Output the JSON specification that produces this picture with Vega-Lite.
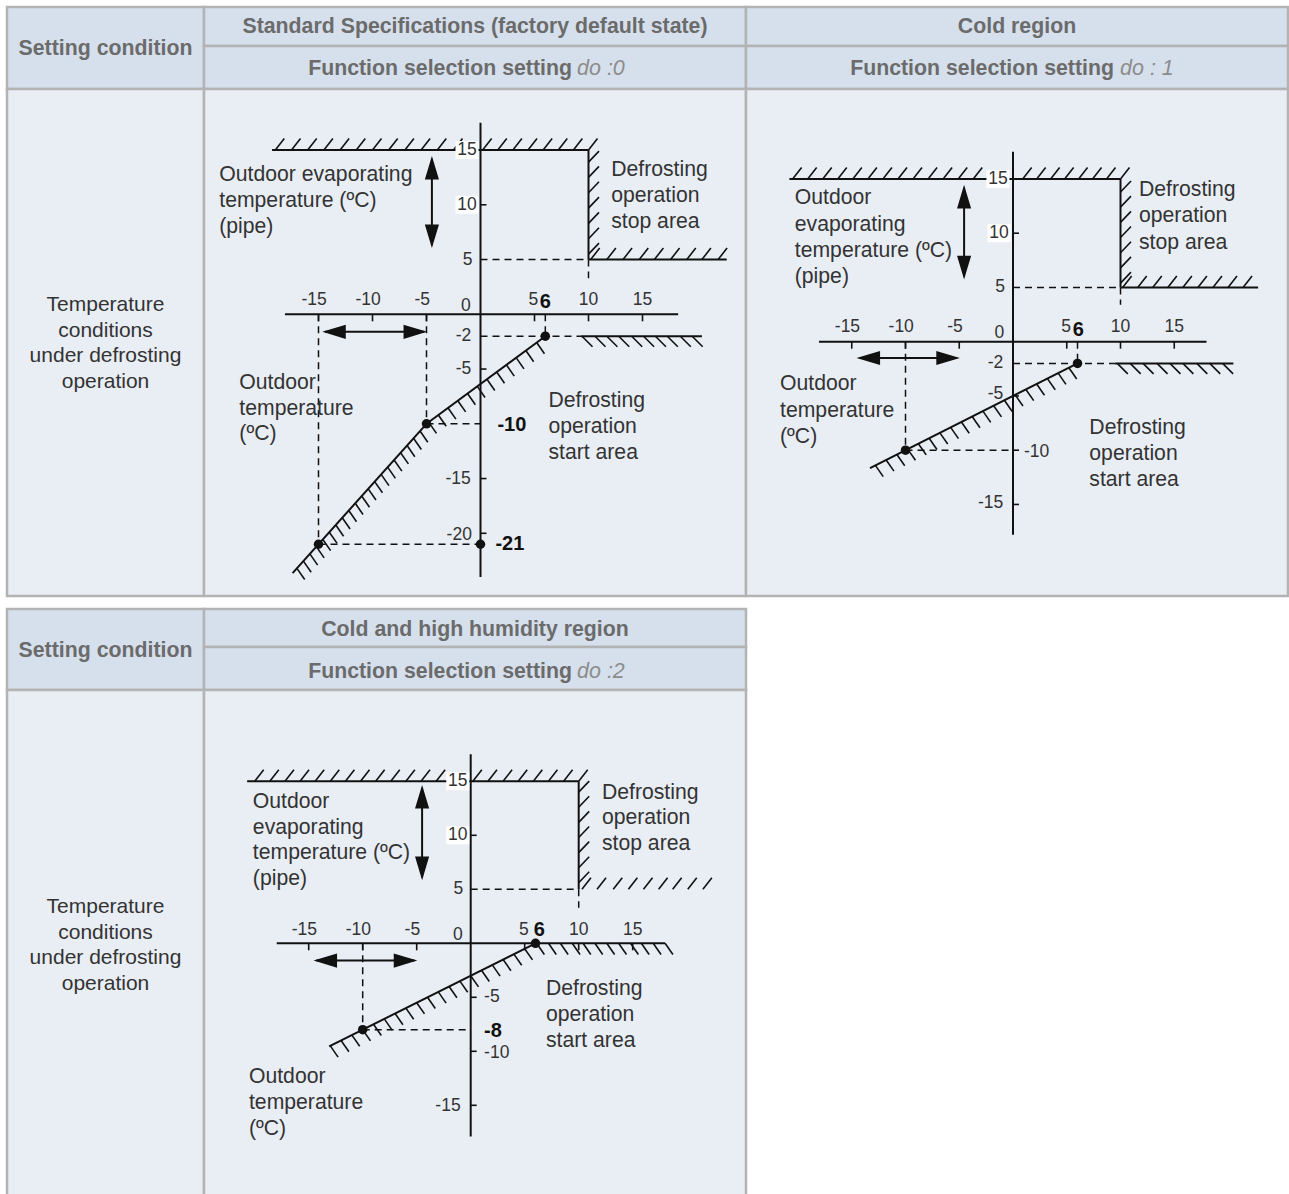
{
"$schema":"https://vega.github.io/schema/vega-lite/v6.json",
"width":1289,"height":1194,"padding":0,
"autosize":{"type":"fit","contains":"padding"},
"background":"white",
"config":{"view":{"stroke":null},"axis":{"disable":true},"legend":{"disable":true}},
"datasets":{
"cells":[
{"x":7,"x2":204,"y":7,"y2":89,"f":"h"},
{"x":204,"x2":746,"y":7,"y2":46,"f":"h"},
{"x":204,"x2":746,"y":46,"y2":89,"f":"h"},
{"x":746,"x2":1288,"y":7,"y2":46,"f":"h"},
{"x":746,"x2":1288,"y":46,"y2":89,"f":"h"},
{"x":7,"x2":204,"y":89,"y2":596,"f":"b"},
{"x":204,"x2":746,"y":89,"y2":596,"f":"b"},
{"x":746,"x2":1288,"y":89,"y2":596,"f":"b"},
{"x":7,"x2":204,"y":609,"y2":690,"f":"h"},
{"x":204,"x2":746,"y":609,"y2":647,"f":"h"},
{"x":204,"x2":746,"y":647,"y2":690,"f":"h"},
{"x":7,"x2":204,"y":690,"y2":1197,"f":"b"},
{"x":204,"x2":746,"y":690,"y2":1197,"f":"b"}
],
"ttext":[
{"x":105.5,"y":49,"t":"Setting condition","s":"hb"},
{"x":105.5,"y":651,"t":"Setting condition","s":"hb"},
{"x":475,"y":27,"t":"Standard Specifications (factory default state)","s":"hb"},
{"x":1017,"y":27,"t":"Cold region","s":"hb"},
{"x":475,"y":630,"t":"Cold and high humidity region","s":"hb"},
{"x":572,"y":69,"t":"Function selection setting","s":"hr"},
{"x":1114,"y":69,"t":"Function selection setting","s":"hr"},
{"x":572,"y":672,"t":"Function selection setting","s":"hr"},
{"x":577,"y":69,"t":"do :0","s":"g"},
{"x":1120,"y":69,"t":"do : 1","s":"g"},
{"x":577,"y":672,"t":"do :2","s":"g"},
{"x":105.5,"y":304,"t":"Temperature\nconditions\nunder defrosting\noperation","s":"lb"},
{"x":105.5,"y":906,"t":"Temperature\nconditions\nunder defrosting\noperation","s":"lb"}
],
"lines":[
{"g":1,"k":"s","x":0,"y":17.5,"x2":0,"y2":-24.0},
{"g":1,"k":"s","x":-18.1,"y":0,"x2":18.3,"y2":0},
{"g":1,"k":"s","x":-19.3,"y":15,"x2":10,"y2":15},
{"g":1,"k":"s","x":10,"y":15,"x2":10,"y2":5},
{"g":1,"k":"s","x":10,"y":5,"x2":22.8,"y2":5},
{"g":1,"k":"s","x":9.3,"y":-2,"x2":20.5,"y2":-2},
{"g":1,"k":"s","x":6,"y":-2,"x2":-5,"y2":-10},
{"g":1,"k":"s","x":-5,"y":-10,"x2":-17.4,"y2":-23.64},
{"g":1,"k":"s","x":-4.5,"y":14.2,"x2":-4.5,"y2":6.3},
{"g":1,"k":"s","x":-14.4,"y":-1.6,"x2":-5.2,"y2":-1.6},
{"g":1,"k":"d","x":0,"y":5,"x2":10,"y2":5},
{"g":1,"k":"d","x":10,"y":5,"x2":10,"y2":3.3},
{"g":1,"k":"d","x":-15,"y":0,"x2":-15,"y2":-21},
{"g":1,"k":"d","x":-5,"y":0,"x2":-5,"y2":-10},
{"g":1,"k":"d","x":-15,"y":-21,"x2":0,"y2":-21},
{"g":1,"k":"d","x":-5,"y":-10,"x2":0,"y2":-10},
{"g":1,"k":"d","x":0,"y":-2,"x2":9.3,"y2":-2},
{"g":1,"k":"d","x":6,"y":0,"x2":6,"y2":-2},
{"g":2,"k":"s","x":0,"y":17.5,"x2":0,"y2":-17.8},
{"g":2,"k":"s","x":-18.05,"y":0,"x2":18.0,"y2":0},
{"g":2,"k":"s","x":-20.8,"y":15,"x2":10,"y2":15},
{"g":2,"k":"s","x":10,"y":15,"x2":10,"y2":5},
{"g":2,"k":"s","x":10,"y":5,"x2":22.8,"y2":5},
{"g":2,"k":"s","x":9.5,"y":-2,"x2":20.5,"y2":-2},
{"g":2,"k":"s","x":6,"y":-2,"x2":-13.3,"y2":-11.65},
{"g":2,"k":"s","x":-4.55,"y":14.2,"x2":-4.55,"y2":6.0},
{"g":2,"k":"s","x":-14.3,"y":-1.5,"x2":-5.2,"y2":-1.5},
{"g":2,"k":"d","x":0,"y":5,"x2":10,"y2":5},
{"g":2,"k":"d","x":10,"y":5,"x2":10,"y2":3.4},
{"g":2,"k":"d","x":-10,"y":0,"x2":-10,"y2":-10},
{"g":2,"k":"d","x":-10,"y":-10,"x2":0,"y2":-10},
{"g":2,"k":"d","x":0,"y":-2,"x2":9.5,"y2":-2},
{"g":2,"k":"d","x":6,"y":0,"x2":6,"y2":-2},
{"g":3,"k":"s","x":0,"y":17.5,"x2":0,"y2":-17.9},
{"g":3,"k":"s","x":-17.96,"y":0,"x2":18.0,"y2":0},
{"g":3,"k":"s","x":-20.7,"y":15,"x2":10,"y2":15},
{"g":3,"k":"s","x":10,"y":15,"x2":10,"y2":5},
{"g":3,"k":"s","x":6,"y":0,"x2":-13.1,"y2":-9.55},
{"g":3,"k":"s","x":-4.5,"y":14.4,"x2":-4.5,"y2":6.1},
{"g":3,"k":"s","x":-14.3,"y":-1.6,"x2":-5.2,"y2":-1.6},
{"g":3,"k":"d","x":0,"y":5,"x2":10,"y2":5},
{"g":3,"k":"d","x":10,"y":5,"x2":10,"y2":3.3},
{"g":3,"k":"d","x":-10,"y":0,"x2":-10,"y2":-8},
{"g":3,"k":"d","x":-10,"y":-8,"x2":0,"y2":-8}
],
"glyphs":[
{"g":1,"h":"u","x":-19,"y":15},{"g":1,"h":"u","x":-17.5,"y":15},{"g":1,"h":"u","x":-16,"y":15},{"g":1,"h":"u","x":-14.5,"y":15},{"g":1,"h":"u","x":-13,"y":15},{"g":1,"h":"u","x":-11.5,"y":15},{"g":1,"h":"u","x":-10,"y":15},{"g":1,"h":"u","x":-8.5,"y":15},{"g":1,"h":"u","x":-7,"y":15},{"g":1,"h":"u","x":-5.5,"y":15},{"g":1,"h":"u","x":-4,"y":15},{"g":1,"h":"u","x":-2.5,"y":15},
{"g":1,"h":"u","x":0.2,"y":15},{"g":1,"h":"u","x":1.6,"y":15},{"g":1,"h":"u","x":3.0,"y":15},{"g":1,"h":"u","x":4.4,"y":15},{"g":1,"h":"u","x":5.8,"y":15},{"g":1,"h":"u","x":7.2,"y":15},{"g":1,"h":"u","x":8.6,"y":15},{"g":1,"h":"u","x":10.0,"y":15},
{"g":1,"h":"r","x":10,"y":13.9},{"g":1,"h":"r","x":10,"y":12.5},{"g":1,"h":"r","x":10,"y":11.1},{"g":1,"h":"r","x":10,"y":9.7},{"g":1,"h":"r","x":10,"y":8.3},{"g":1,"h":"r","x":10,"y":6.9},{"g":1,"h":"r","x":10,"y":5.5},
{"g":1,"h":"u","x":10.2,"y":5},{"g":1,"h":"u","x":11.7,"y":5},{"g":1,"h":"u","x":13.2,"y":5},{"g":1,"h":"u","x":14.7,"y":5},{"g":1,"h":"u","x":16.1,"y":5},{"g":1,"h":"u","x":17.6,"y":5},{"g":1,"h":"u","x":19.1,"y":5},{"g":1,"h":"u","x":20.5,"y":5},{"g":1,"h":"u","x":22.0,"y":5},
{"g":1,"h":"d","x":9.4,"y":-2},{"g":1,"h":"d","x":10.6,"y":-2},{"g":1,"h":"d","x":11.7,"y":-2},{"g":1,"h":"d","x":12.8,"y":-2},{"g":1,"h":"d","x":14.0,"y":-2},{"g":1,"h":"d","x":15.1,"y":-2},{"g":1,"h":"d","x":16.2,"y":-2},{"g":1,"h":"d","x":17.3,"y":-2},{"g":1,"h":"d","x":18.5,"y":-2},{"g":1,"h":"d","x":19.6,"y":-2},
{"g":1,"h":"p","x":5.2,"y":-2.58},{"g":1,"h":"p","x":4.2,"y":-3.31},{"g":1,"h":"p","x":3.3,"y":-3.96},{"g":1,"h":"p","x":2.4,"y":-4.62},{"g":1,"h":"p","x":1.5,"y":-5.27},{"g":1,"h":"p","x":0.6,"y":-5.93},{"g":1,"h":"p","x":-0.3,"y":-6.58},{"g":1,"h":"p","x":-1.2,"y":-7.24},{"g":1,"h":"p","x":-2.1,"y":-7.89},{"g":1,"h":"p","x":-3.0,"y":-8.55},{"g":1,"h":"p","x":-3.9,"y":-9.2},{"g":1,"h":"p","x":-4.8,"y":-9.85},
{"g":1,"h":"p","x":-5.6,"y":-10.66},{"g":1,"h":"p","x":-6.2,"y":-11.32},{"g":1,"h":"p","x":-6.8,"y":-11.98},{"g":1,"h":"p","x":-7.4,"y":-12.64},{"g":1,"h":"p","x":-8.0,"y":-13.3},{"g":1,"h":"p","x":-8.6,"y":-13.96},{"g":1,"h":"p","x":-9.2,"y":-14.62},{"g":1,"h":"p","x":-9.8,"y":-15.28},{"g":1,"h":"p","x":-10.4,"y":-15.94},{"g":1,"h":"p","x":-11.0,"y":-16.6},{"g":1,"h":"p","x":-11.6,"y":-17.26},{"g":1,"h":"p","x":-12.2,"y":-17.92},{"g":1,"h":"p","x":-12.8,"y":-18.58},{"g":1,"h":"p","x":-13.4,"y":-19.24},{"g":1,"h":"p","x":-14.0,"y":-19.9},{"g":1,"h":"p","x":-14.6,"y":-20.56},{"g":1,"h":"p","x":-15.2,"y":-21.22},{"g":1,"h":"p","x":-15.8,"y":-21.88},{"g":1,"h":"p","x":-16.4,"y":-22.54},{"g":1,"h":"p","x":-17.0,"y":-23.2},
{"g":1,"h":"tx","x":-15,"y":0},{"g":1,"h":"tx","x":-10,"y":0},{"g":1,"h":"tx","x":-5,"y":0},{"g":1,"h":"tx","x":5,"y":0},{"g":1,"h":"tx","x":10,"y":0},{"g":1,"h":"tx","x":15,"y":0},
{"g":1,"h":"ty","x":0,"y":10},{"g":1,"h":"ty","x":0,"y":-5},{"g":1,"h":"ty","x":0,"y":-15},{"g":1,"h":"ty","x":0,"y":-20},
{"g":1,"h":"au","x":-4.5,"y":14.2},{"g":1,"h":"ad","x":-4.5,"y":6.3},{"g":1,"h":"al","x":-14.4,"y":-1.6},{"g":1,"h":"ar","x":-5.2,"y":-1.6},

{"g":2,"h":"u","x":-20.5,"y":15},{"g":2,"h":"u","x":-19.1,"y":15},{"g":2,"h":"u","x":-17.7,"y":15},{"g":2,"h":"u","x":-16.3,"y":15},{"g":2,"h":"u","x":-14.9,"y":15},{"g":2,"h":"u","x":-13.5,"y":15},{"g":2,"h":"u","x":-12.1,"y":15},{"g":2,"h":"u","x":-10.7,"y":15},{"g":2,"h":"u","x":-9.3,"y":15},{"g":2,"h":"u","x":-7.9,"y":15},{"g":2,"h":"u","x":-6.5,"y":15},{"g":2,"h":"u","x":-5.1,"y":15},{"g":2,"h":"u","x":-3.7,"y":15},
{"g":2,"h":"u","x":0.9,"y":15},{"g":2,"h":"u","x":2.2,"y":15},{"g":2,"h":"u","x":3.5,"y":15},{"g":2,"h":"u","x":4.8,"y":15},{"g":2,"h":"u","x":6.1,"y":15},{"g":2,"h":"u","x":7.4,"y":15},{"g":2,"h":"u","x":8.7,"y":15},{"g":2,"h":"u","x":10.0,"y":15},
{"g":2,"h":"r","x":10,"y":13.8},{"g":2,"h":"r","x":10,"y":12.4},{"g":2,"h":"r","x":10,"y":11.0},{"g":2,"h":"r","x":10,"y":9.6},{"g":2,"h":"r","x":10,"y":8.2},{"g":2,"h":"r","x":10,"y":6.8},{"g":2,"h":"r","x":10,"y":5.4},
{"g":2,"h":"u","x":10.2,"y":5},{"g":2,"h":"u","x":11.6,"y":5},{"g":2,"h":"u","x":13.0,"y":5},{"g":2,"h":"u","x":14.4,"y":5},{"g":2,"h":"u","x":15.8,"y":5},{"g":2,"h":"u","x":17.2,"y":5},{"g":2,"h":"u","x":18.6,"y":5},{"g":2,"h":"u","x":20.0,"y":5},{"g":2,"h":"u","x":21.4,"y":5},
{"g":2,"h":"d","x":9.7,"y":-2},{"g":2,"h":"d","x":10.9,"y":-2},{"g":2,"h":"d","x":12.1,"y":-2},{"g":2,"h":"d","x":13.4,"y":-2},{"g":2,"h":"d","x":14.6,"y":-2},{"g":2,"h":"d","x":15.8,"y":-2},{"g":2,"h":"d","x":17.1,"y":-2},{"g":2,"h":"d","x":18.3,"y":-2},{"g":2,"h":"d","x":19.5,"y":-2},
{"g":2,"h":"p","x":5.2,"y":-2.4},{"g":2,"h":"p","x":4.2,"y":-2.9},{"g":2,"h":"p","x":3.2,"y":-3.4},{"g":2,"h":"p","x":2.2,"y":-3.9},{"g":2,"h":"p","x":1.2,"y":-4.4},{"g":2,"h":"p","x":0.2,"y":-4.9},{"g":2,"h":"p","x":-0.8,"y":-5.4},{"g":2,"h":"p","x":-1.8,"y":-5.9},{"g":2,"h":"p","x":-2.8,"y":-6.4},{"g":2,"h":"p","x":-3.8,"y":-6.9},{"g":2,"h":"p","x":-4.8,"y":-7.4},{"g":2,"h":"p","x":-5.8,"y":-7.9},{"g":2,"h":"p","x":-6.8,"y":-8.4},{"g":2,"h":"p","x":-7.8,"y":-8.9},{"g":2,"h":"p","x":-8.8,"y":-9.4},{"g":2,"h":"p","x":-9.8,"y":-9.9},{"g":2,"h":"p","x":-10.8,"y":-10.4},{"g":2,"h":"p","x":-11.8,"y":-10.9},{"g":2,"h":"p","x":-12.8,"y":-11.4},
{"g":2,"h":"tx","x":-15,"y":0},{"g":2,"h":"tx","x":-10,"y":0},{"g":2,"h":"tx","x":-5,"y":0},{"g":2,"h":"tx","x":5,"y":0},{"g":2,"h":"tx","x":10,"y":0},{"g":2,"h":"tx","x":15,"y":0},
{"g":2,"h":"ty","x":0,"y":10},{"g":2,"h":"ty","x":0,"y":-5},{"g":2,"h":"ty","x":0,"y":-10},{"g":2,"h":"ty","x":0,"y":-15},
{"g":2,"h":"au","x":-4.55,"y":14.2},{"g":2,"h":"ad","x":-4.55,"y":6.0},{"g":2,"h":"al","x":-14.3,"y":-1.5},{"g":2,"h":"ar","x":-5.2,"y":-1.5},

{"g":3,"h":"u","x":-20.0,"y":15},{"g":3,"h":"u","x":-18.6,"y":15},{"g":3,"h":"u","x":-17.2,"y":15},{"g":3,"h":"u","x":-15.8,"y":15},{"g":3,"h":"u","x":-14.4,"y":15},{"g":3,"h":"u","x":-13.0,"y":15},{"g":3,"h":"u","x":-11.6,"y":15},{"g":3,"h":"u","x":-10.2,"y":15},{"g":3,"h":"u","x":-8.8,"y":15},{"g":3,"h":"u","x":-7.4,"y":15},{"g":3,"h":"u","x":-6.0,"y":15},{"g":3,"h":"u","x":-4.6,"y":15},{"g":3,"h":"u","x":-3.2,"y":15},
{"g":3,"h":"u","x":0.2,"y":15},{"g":3,"h":"u","x":1.6,"y":15},{"g":3,"h":"u","x":3.0,"y":15},{"g":3,"h":"u","x":4.4,"y":15},{"g":3,"h":"u","x":5.8,"y":15},{"g":3,"h":"u","x":7.2,"y":15},{"g":3,"h":"u","x":8.6,"y":15},{"g":3,"h":"u","x":10.0,"y":15},
{"g":3,"h":"r","x":10,"y":14.0},{"g":3,"h":"r","x":10,"y":12.6},{"g":3,"h":"r","x":10,"y":11.2},{"g":3,"h":"r","x":10,"y":9.8},{"g":3,"h":"r","x":10,"y":8.4},{"g":3,"h":"r","x":10,"y":7.0},{"g":3,"h":"r","x":10,"y":5.6},
{"g":3,"h":"u","x":10.3,"y":5},{"g":3,"h":"u","x":11.7,"y":5},{"g":3,"h":"u","x":13.2,"y":5},{"g":3,"h":"u","x":14.6,"y":5},{"g":3,"h":"u","x":16.0,"y":5},{"g":3,"h":"u","x":17.4,"y":5},{"g":3,"h":"u","x":18.7,"y":5},{"g":3,"h":"u","x":20.1,"y":5},{"g":3,"h":"u","x":21.5,"y":5},
{"g":3,"h":"p","x":6.1,"y":0},{"g":3,"h":"p","x":7.2,"y":0},{"g":3,"h":"p","x":8.3,"y":0},{"g":3,"h":"p","x":9.4,"y":0},{"g":3,"h":"p","x":10.4,"y":0},{"g":3,"h":"p","x":11.5,"y":0},{"g":3,"h":"p","x":12.6,"y":0},{"g":3,"h":"p","x":13.7,"y":0},{"g":3,"h":"p","x":14.8,"y":0},{"g":3,"h":"p","x":15.8,"y":0},{"g":3,"h":"p","x":16.9,"y":0},{"g":3,"h":"p","x":18.0,"y":0},
{"g":3,"h":"p","x":5,"y":-0.5},{"g":3,"h":"p","x":4,"y":-1},{"g":3,"h":"p","x":3,"y":-1.5},{"g":3,"h":"p","x":2,"y":-2},{"g":3,"h":"p","x":1,"y":-2.5},{"g":3,"h":"p","x":0,"y":-3},{"g":3,"h":"p","x":-1,"y":-3.5},{"g":3,"h":"p","x":-2,"y":-4},{"g":3,"h":"p","x":-3,"y":-4.5},{"g":3,"h":"p","x":-4,"y":-5},{"g":3,"h":"p","x":-5,"y":-5.5},{"g":3,"h":"p","x":-6,"y":-6},{"g":3,"h":"p","x":-7,"y":-6.5},{"g":3,"h":"p","x":-8,"y":-7},{"g":3,"h":"p","x":-9,"y":-7.5},{"g":3,"h":"p","x":-10,"y":-8},{"g":3,"h":"p","x":-11,"y":-8.5},{"g":3,"h":"p","x":-12,"y":-9},{"g":3,"h":"p","x":-13,"y":-9.5},
{"g":3,"h":"tx","x":-15,"y":0},{"g":3,"h":"tx","x":-10,"y":0},{"g":3,"h":"tx","x":-5,"y":0},{"g":3,"h":"tx","x":5,"y":0},{"g":3,"h":"tx","x":10,"y":0},{"g":3,"h":"tx","x":15,"y":0},
{"g":3,"h":"ty","x":0,"y":10},{"g":3,"h":"ty","x":0,"y":-5},{"g":3,"h":"ty","x":0,"y":-10},{"g":3,"h":"ty","x":0,"y":-15},
{"g":3,"h":"au","x":-4.5,"y":14.4},{"g":3,"h":"ad","x":-4.5,"y":6.1},{"g":3,"h":"al","x":-14.3,"y":-1.6},{"g":3,"h":"ar","x":-5.2,"y":-1.6}
],
"dots":[
{"g":1,"x":6,"y":-2},{"g":1,"x":-5,"y":-10},{"g":1,"x":-15,"y":-21},{"g":1,"x":0,"y":-21},
{"g":2,"x":6,"y":-2},{"g":2,"x":-10,"y":-10},
{"g":3,"x":6,"y":0},{"g":3,"x":-10,"y":-8}
],
"bgs":[
{"g":1,"x":-1.25,"y":15},{"g":1,"x":-1.25,"y":10},
{"g":2,"x":-1.4,"y":15},{"g":2,"x":-1.3,"y":10},
{"g":3,"x":-1.2,"y":15},{"g":3,"x":-1.2,"y":10}
],
"texts":[
{"g":1,"s":"c","x":-15.4,"y":1.3,"t":"-15"},
{"g":1,"s":"c","x":-10.4,"y":1.3,"t":"-10"},
{"g":1,"s":"c","x":-5.4,"y":1.3,"t":"-5"},
{"g":1,"s":"c","x":-1.35,"y":0.75,"t":"0"},
{"g":1,"s":"c","x":4.9,"y":1.3,"t":"5"},
{"g":1,"s":"c","x":10,"y":1.3,"t":"10"},
{"g":1,"s":"c","x":15,"y":1.3,"t":"15"},
{"g":1,"s":"c","x":-1.25,"y":15,"t":"15"},
{"g":1,"s":"c","x":-1.25,"y":10,"t":"10"},
{"g":1,"s":"r","x":-0.75,"y":5,"t":"5"},
{"g":1,"s":"r","x":-0.85,"y":-2,"t":"-2"},
{"g":1,"s":"r","x":-0.85,"y":-5,"t":"-5"},
{"g":1,"s":"r","x":-0.9,"y":-15,"t":"-15"},
{"g":1,"s":"r","x":-0.8,"y":-20.2,"t":"-20"},
{"g":1,"s":"bc","x":6.0,"y":1.1,"t":"6"},
{"g":1,"s":"bl","x":1.57,"y":-10.1,"t":"-10"},
{"g":1,"s":"bl","x":1.38,"y":-21.0,"t":"-21"},
{"g":1,"s":"d","x":-24.19,"y":12.81,"t":"Outdoor evaporating\ntemperature (ºC)\n(pipe)"},
{"g":1,"s":"d","x":12.1,"y":13.24,"t":"Defrosting\noperation\nstop area"},
{"g":1,"s":"d","x":-22.33,"y":-6.16,"t":"Outdoor\ntemperature\n(ºC)"},
{"g":1,"s":"d","x":6.29,"y":-7.83,"t":"Defrosting\noperation\nstart area"},
{"g":2,"s":"c","x":-15.4,"y":1.33,"t":"-15"},
{"g":2,"s":"c","x":-10.4,"y":1.33,"t":"-10"},
{"g":2,"s":"c","x":-5.4,"y":1.33,"t":"-5"},
{"g":2,"s":"c","x":-1.27,"y":0.83,"t":"0"},
{"g":2,"s":"c","x":4.93,"y":1.33,"t":"5"},
{"g":2,"s":"c","x":10,"y":1.33,"t":"10"},
{"g":2,"s":"c","x":15,"y":1.33,"t":"15"},
{"g":2,"s":"c","x":-1.4,"y":15,"t":"15"},
{"g":2,"s":"c","x":-1.3,"y":10,"t":"10"},
{"g":2,"s":"r","x":-0.74,"y":5,"t":"5"},
{"g":2,"s":"r","x":-0.9,"y":-2,"t":"-2"},
{"g":2,"s":"r","x":-0.9,"y":-4.85,"t":"-5"},
{"g":2,"s":"r","x":-0.9,"y":-14.9,"t":"-15"},
{"g":2,"s":"l","x":1.02,"y":-10.14,"t":"-10"},
{"g":2,"s":"bc","x":6.07,"y":1.08,"t":"6"},
{"g":2,"s":"d","x":-20.3,"y":13.3,"t":"Outdoor\nevaporating\ntemperature (ºC)\n(pipe)"},
{"g":2,"s":"d","x":11.72,"y":14.05,"t":"Defrosting\noperation\nstop area"},
{"g":2,"s":"d","x":-21.67,"y":-3.84,"t":"Outdoor\ntemperature\n(ºC)"},
{"g":2,"s":"d","x":7.1,"y":-7.83,"t":"Defrosting\noperation\nstart area"},
{"g":3,"s":"c","x":-15.4,"y":1.23,"t":"-15"},
{"g":3,"s":"c","x":-10.4,"y":1.23,"t":"-10"},
{"g":3,"s":"c","x":-5.4,"y":1.23,"t":"-5"},
{"g":3,"s":"c","x":-1.2,"y":0.77,"t":"0"},
{"g":3,"s":"c","x":4.93,"y":1.23,"t":"5"},
{"g":3,"s":"c","x":10,"y":1.23,"t":"10"},
{"g":3,"s":"c","x":15,"y":1.23,"t":"15"},
{"g":3,"s":"c","x":-1.2,"y":15,"t":"15"},
{"g":3,"s":"c","x":-1.2,"y":10,"t":"10"},
{"g":3,"s":"r","x":-0.7,"y":5,"t":"5"},
{"g":3,"s":"r","x":-0.93,"y":-15.04,"t":"-15"},
{"g":3,"s":"l","x":1.24,"y":-5.0,"t":"-5"},
{"g":3,"s":"l","x":1.24,"y":-10.2,"t":"-10"},
{"g":3,"s":"bl","x":1.24,"y":-8.09,"t":"-8"},
{"g":3,"s":"bc","x":6.35,"y":1.23,"t":"6"},
{"g":3,"s":"d","x":-20.17,"y":13.2,"t":"Outdoor\nevaporating\ntemperature (ºC)\n(pipe)"},
{"g":3,"s":"d","x":12.15,"y":14.04,"t":"Defrosting\noperation\nstop area"},
{"g":3,"s":"d","x":-20.53,"y":-12.29,"t":"Outdoor\ntemperature\n(ºC)"},
{"g":3,"s":"d","x":6.97,"y":-4.17,"t":"Defrosting\noperation\nstart area"}
]
},
"layer":[
{
"encoding":{
"x":{"field":"x","type":"quantitative","scale":{"domain":[0,1289],"nice":false,"zero":false}},
"y":{"field":"y","type":"quantitative","scale":{"domain":[0,1194],"nice":false,"zero":false,"reverse":true}}
},
"layer":[
{"data":{"name":"cells"},"mark":{"type":"rect","stroke":"#b3b3b3","strokeWidth":2.5,"clip":true},
 "encoding":{"x2":{"field":"x2"},"y2":{"field":"y2"},"fill":{"field":"f","type":"nominal","legend":null,"scale":{"domain":["h","b"],"range":["#d6e0ec","#e9eef5"]}}}},
{"data":{"name":"ttext"},"transform":[{"filter":"datum.s=='hb'"}],"mark":{"type":"text","align":"center","baseline":"middle","font":"Liberation Sans","fontSize":21.3,"fontWeight":"bold","color":"#6b6b6b"},"encoding":{"text":{"field":"t"}}},
{"data":{"name":"ttext"},"transform":[{"filter":"datum.s=='hr'"}],"mark":{"type":"text","align":"right","baseline":"middle","font":"Liberation Sans","fontSize":21.3,"fontWeight":"bold","color":"#6b6b6b"},"encoding":{"text":{"field":"t"}}},
{"data":{"name":"ttext"},"transform":[{"filter":"datum.s=='g'"}],"mark":{"type":"text","align":"left","baseline":"middle","font":"Liberation Sans","fontSize":21.5,"fontStyle":"italic","color":"#8c8c8c"},"encoding":{"text":{"field":"t"}}},
{"data":{"name":"ttext"},"transform":[{"filter":"datum.s=='lb'"}],"mark":{"type":"text","align":"center","baseline":"top","dy":-10,"lineBreak":"\n","lineHeight":25.7,"font":"Liberation Sans","fontSize":21,"color":"#333333"},"encoding":{"text":{"field":"t"}}}
]
},
{
"encoding":{
"x":{"field":"x","type":"quantitative","scale":{"domain":[-44.491,74.861],"nice":false,"zero":false}},
"y":{"field":"y","type":"quantitative","scale":{"domain":[-80.338,28.703],"nice":false,"zero":false}}
},
"layer":[
{"data":{"name":"lines"},"transform":[{"filter":"datum.g==1 && datum.k=='s'"}],"mark":{"type":"rule","color":"#111111","strokeWidth":2},"encoding":{"x2":{"field":"x2"},"y2":{"field":"y2"}}},
{"data":{"name":"lines"},"transform":[{"filter":"datum.g==1 && datum.k=='d'"}],"mark":{"type":"rule","color":"#111111","strokeWidth":1.5,"strokeDash":[7,5]},"encoding":{"x2":{"field":"x2"},"y2":{"field":"y2"}}},
{"data":{"name":"glyphs"},"transform":[{"filter":"datum.g==1"}],"mark":{"type":"point","filled":true,"fill":"#111111","stroke":"#111111","strokeWidth":1.6,"opacity":1,"size":400},
 "encoding":{"shape":{"field":"h","type":"nominal","legend":null,"scale":{"domain":["u","r","d","p","tx","ty","au","ad","al","ar"],"range":["M0,0L0.9,-1.15","M0,0L1.05,-1.1","M0,0L1.05,1.05","M0,0L0.78,1.12","M0,0L0,0.7","M0,0L0.6,0","M0,0L0.6,2L-0.6,2Z","M0,0L0.6,-2L-0.6,-2Z","M0,0L2,0.6L2,-0.6Z","M0,0L-2,0.6L-2,-0.6Z"]}}}},
{"data":{"name":"dots"},"transform":[{"filter":"datum.g==1"}],"mark":{"type":"circle","size":90,"color":"#111111","opacity":1}},
{"data":{"name":"bgs"},"transform":[{"filter":"datum.g==1"}],"mark":{"type":"point","filled":true,"fill":"white","opacity":1,"size":400,"strokeWidth":0,"shape":"M-1.15,-0.9L1.15,-0.9L1.15,0.9L-1.15,0.9Z"}},
{"data":{"name":"texts"},"transform":[{"filter":"datum.g==1 && datum.s=='c'"}],"mark":{"type":"text","align":"center","baseline":"middle","font":"Liberation Sans","fontSize":17.5,"color":"#333333"},"encoding":{"text":{"field":"t"}}},
{"data":{"name":"texts"},"transform":[{"filter":"datum.g==1 && datum.s=='r'"}],"mark":{"type":"text","align":"right","baseline":"middle","font":"Liberation Sans","fontSize":17.5,"color":"#333333"},"encoding":{"text":{"field":"t"}}},
{"data":{"name":"texts"},"transform":[{"filter":"datum.g==1 && datum.s=='bc'"}],"mark":{"type":"text","align":"center","baseline":"middle","font":"Liberation Sans","fontSize":20,"fontWeight":"bold","color":"#111111"},"encoding":{"text":{"field":"t"}}},
{"data":{"name":"texts"},"transform":[{"filter":"datum.g==1 && datum.s=='bl'"}],"mark":{"type":"text","align":"left","baseline":"middle","font":"Liberation Sans","fontSize":20,"fontWeight":"bold","color":"#111111"},"encoding":{"text":{"field":"t"}}},
{"data":{"name":"texts"},"transform":[{"filter":"datum.g==1 && datum.s=='d'"}],"mark":{"type":"text","align":"left","baseline":"top","dy":-10,"lineBreak":"\n","lineHeight":25.8,"font":"Liberation Sans","fontSize":21.2,"color":"#333333"},"encoding":{"text":{"field":"t"}}}
]
},
{
"encoding":{
"x":{"field":"x","type":"quantitative","scale":{"domain":[-94.233,25.674],"nice":false,"zero":false}},
"y":{"field":"y","type":"quantitative","scale":{"domain":[-78.553,31.493],"nice":false,"zero":false}}
},
"layer":[
{"data":{"name":"lines"},"transform":[{"filter":"datum.g==2 && datum.k=='s'"}],"mark":{"type":"rule","color":"#111111","strokeWidth":2},"encoding":{"x2":{"field":"x2"},"y2":{"field":"y2"}}},
{"data":{"name":"lines"},"transform":[{"filter":"datum.g==2 && datum.k=='d'"}],"mark":{"type":"rule","color":"#111111","strokeWidth":1.5,"strokeDash":[7,5]},"encoding":{"x2":{"field":"x2"},"y2":{"field":"y2"}}},
{"data":{"name":"glyphs"},"transform":[{"filter":"datum.g==2"}],"mark":{"type":"point","filled":true,"fill":"#111111","stroke":"#111111","strokeWidth":1.6,"opacity":1,"size":400},
 "encoding":{"shape":{"field":"h","type":"nominal","legend":null,"scale":{"domain":["u","r","d","p","tx","ty","au","ad","al","ar"],"range":["M0,0L0.9,-1.15","M0,0L1.05,-1.1","M0,0L1.05,1.05","M0,0L0.78,1.12","M0,0L0,0.7","M0,0L0.6,0","M0,0L0.6,2L-0.6,2Z","M0,0L0.6,-2L-0.6,-2Z","M0,0L2,0.6L2,-0.6Z","M0,0L-2,0.6L-2,-0.6Z"]}}}},
{"data":{"name":"dots"},"transform":[{"filter":"datum.g==2"}],"mark":{"type":"circle","size":90,"color":"#111111","opacity":1}},
{"data":{"name":"bgs"},"transform":[{"filter":"datum.g==2"}],"mark":{"type":"point","filled":true,"fill":"white","opacity":1,"size":400,"strokeWidth":0,"shape":"M-1.15,-0.9L1.15,-0.9L1.15,0.9L-1.15,0.9Z"}},
{"data":{"name":"texts"},"transform":[{"filter":"datum.g==2 && datum.s=='c'"}],"mark":{"type":"text","align":"center","baseline":"middle","font":"Liberation Sans","fontSize":17.5,"color":"#333333"},"encoding":{"text":{"field":"t"}}},
{"data":{"name":"texts"},"transform":[{"filter":"datum.g==2 && datum.s=='r'"}],"mark":{"type":"text","align":"right","baseline":"middle","font":"Liberation Sans","fontSize":17.5,"color":"#333333"},"encoding":{"text":{"field":"t"}}},
{"data":{"name":"texts"},"transform":[{"filter":"datum.g==2 && datum.s=='l'"}],"mark":{"type":"text","align":"left","baseline":"middle","font":"Liberation Sans","fontSize":17.5,"color":"#333333"},"encoding":{"text":{"field":"t"}}},
{"data":{"name":"texts"},"transform":[{"filter":"datum.g==2 && datum.s=='bc'"}],"mark":{"type":"text","align":"center","baseline":"middle","font":"Liberation Sans","fontSize":20,"fontWeight":"bold","color":"#111111"},"encoding":{"text":{"field":"t"}}},
{"data":{"name":"texts"},"transform":[{"filter":"datum.g==2 && datum.s=='d'"}],"mark":{"type":"text","align":"left","baseline":"top","dy":-10,"lineBreak":"\n","lineHeight":26.2,"font":"Liberation Sans","fontSize":21.2,"color":"#333333"},"encoding":{"text":{"field":"t"}}}
]
},
{
"encoding":{
"x":{"field":"x","type":"quantitative","scale":{"domain":[-43.583,75.769],"nice":false,"zero":false}},
"y":{"field":"y","type":"quantitative","scale":{"domain":[-23.213,87.343],"nice":false,"zero":false}}
},
"layer":[
{"data":{"name":"lines"},"transform":[{"filter":"datum.g==3 && datum.k=='s'"}],"mark":{"type":"rule","color":"#111111","strokeWidth":2},"encoding":{"x2":{"field":"x2"},"y2":{"field":"y2"}}},
{"data":{"name":"lines"},"transform":[{"filter":"datum.g==3 && datum.k=='d'"}],"mark":{"type":"rule","color":"#111111","strokeWidth":1.5,"strokeDash":[7,5]},"encoding":{"x2":{"field":"x2"},"y2":{"field":"y2"}}},
{"data":{"name":"glyphs"},"transform":[{"filter":"datum.g==3"}],"mark":{"type":"point","filled":true,"fill":"#111111","stroke":"#111111","strokeWidth":1.6,"opacity":1,"size":400},
 "encoding":{"shape":{"field":"h","type":"nominal","legend":null,"scale":{"domain":["u","r","d","p","tx","ty","au","ad","al","ar"],"range":["M0,0L0.9,-1.15","M0,0L1.05,-1.1","M0,0L1.05,1.05","M0,0L0.78,1.12","M0,0L0,0.7","M0,0L0.6,0","M0,0L0.6,2L-0.6,2Z","M0,0L0.6,-2L-0.6,-2Z","M0,0L2,0.6L2,-0.6Z","M0,0L-2,0.6L-2,-0.6Z"]}}}},
{"data":{"name":"dots"},"transform":[{"filter":"datum.g==3"}],"mark":{"type":"circle","size":90,"color":"#111111","opacity":1}},
{"data":{"name":"bgs"},"transform":[{"filter":"datum.g==3"}],"mark":{"type":"point","filled":true,"fill":"white","opacity":1,"size":400,"strokeWidth":0,"shape":"M-1.15,-0.9L1.15,-0.9L1.15,0.9L-1.15,0.9Z"}},
{"data":{"name":"texts"},"transform":[{"filter":"datum.g==3 && datum.s=='c'"}],"mark":{"type":"text","align":"center","baseline":"middle","font":"Liberation Sans","fontSize":17.5,"color":"#333333"},"encoding":{"text":{"field":"t"}}},
{"data":{"name":"texts"},"transform":[{"filter":"datum.g==3 && datum.s=='r'"}],"mark":{"type":"text","align":"right","baseline":"middle","font":"Liberation Sans","fontSize":17.5,"color":"#333333"},"encoding":{"text":{"field":"t"}}},
{"data":{"name":"texts"},"transform":[{"filter":"datum.g==3 && datum.s=='l'"}],"mark":{"type":"text","align":"left","baseline":"middle","font":"Liberation Sans","fontSize":17.5,"color":"#333333"},"encoding":{"text":{"field":"t"}}},
{"data":{"name":"texts"},"transform":[{"filter":"datum.g==3 && datum.s=='bc'"}],"mark":{"type":"text","align":"center","baseline":"middle","font":"Liberation Sans","fontSize":20,"fontWeight":"bold","color":"#111111"},"encoding":{"text":{"field":"t"}}},
{"data":{"name":"texts"},"transform":[{"filter":"datum.g==3 && datum.s=='bl'"}],"mark":{"type":"text","align":"left","baseline":"middle","font":"Liberation Sans","fontSize":20,"fontWeight":"bold","color":"#111111"},"encoding":{"text":{"field":"t"}}},
{"data":{"name":"texts"},"transform":[{"filter":"datum.g==3 && datum.s=='d'"}],"mark":{"type":"text","align":"left","baseline":"top","dy":-10,"lineBreak":"\n","lineHeight":25.8,"font":"Liberation Sans","fontSize":21.2,"color":"#333333"},"encoding":{"text":{"field":"t"}}}
]
}
],
"resolve":{"scale":{"x":"independent","y":"independent"}}
}
